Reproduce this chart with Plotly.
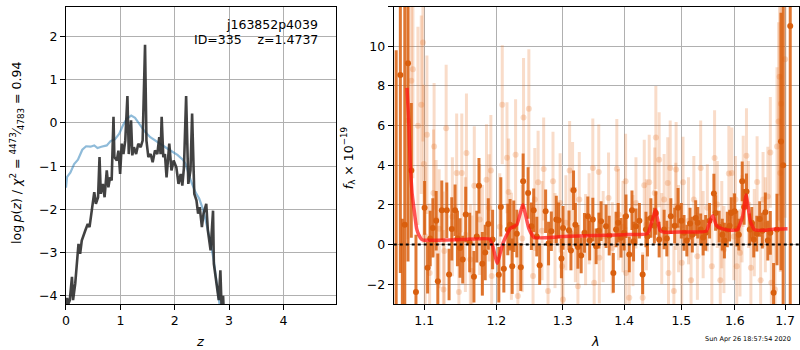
import plotly.graph_objects as go

# ---------------- left panel: p(z) ----------------
z_pz = [0.00, 0.02, 0.04, 0.07, 0.11, 0.13, 0.17, 0.20, 0.23, 0.26, 0.29, 0.355, 0.40, 0.433,
        0.477, 0.52, 0.55, 0.59, 0.617, 0.64, 0.678, 0.71, 0.75, 0.78, 0.81, 0.84, 0.874,
        0.89, 0.935, 0.965, 0.996, 1.026, 1.057, 1.09, 1.13, 1.155, 1.197, 1.22, 1.25, 1.29,
        1.33, 1.374, 1.41, 1.454, 1.48, 1.515, 1.557, 1.594, 1.637, 1.68, 1.716, 1.74, 1.76,
        1.79, 1.82, 1.85, 1.90, 1.94, 1.98, 2.03, 2.07, 2.11, 2.14, 2.17, 2.21, 2.25, 2.29,
        2.32, 2.36, 2.40, 2.43, 2.46, 2.50, 2.53, 2.58, 2.61, 2.66, 2.705, 2.72, 2.77, 2.81,
        2.84, 2.86, 2.89, 2.90]
lnp_pz = [-4.20, -4.05, -4.20, -4.10, -3.56, -4.10, -3.72, -3.26, -2.80, -3.03, -2.72, -2.49,
          -2.34, -2.41, -1.95, -1.60, -1.87, -1.72, -0.79, -1.64, -1.41, -1.72, -1.10, -1.49,
          -1.26, -1.33, 0.14, -0.79, -0.87, -0.64, -1.18, -0.48, -0.72, -0.41, 0.62, -0.72,
          0.06, -0.75, -0.56, -0.72, -0.48, -0.56, -0.41, 1.81, -0.41, -0.79, -0.72, -0.91,
          -0.64, -0.72, -0.33, -0.72, 0.14, -0.79, -0.72, -1.26, -0.48, -1.10, -0.87, -1.03,
          -1.41, -1.18, -1.45, -1.03, 0.62, -1.41, -1.10, 0.22, -1.64, -1.79, -2.10, -1.95,
          -2.41, -2.10, -1.87, -2.49, -2.95, -2.03, -3.26, -3.80, -4.10, -3.41, -4.19, -4.00,
          -4.30]

z_prior = [0.00, 0.02, 0.08, 0.15, 0.22, 0.30, 0.37, 0.45, 0.52, 0.58, 0.65, 0.75, 0.82, 0.90,
           0.98, 1.05, 1.12, 1.20, 1.27, 1.35, 1.45, 1.55, 1.65, 1.75, 1.85, 1.95, 2.05, 2.15,
           2.20, 2.25, 2.30, 2.38, 2.45, 2.52, 2.58, 2.65, 2.72, 2.78, 2.83]
lnp_prior = [-1.50, -1.25, -1.15, -0.95, -0.85, -0.62, -0.54, -0.55, -0.52, -0.58, -0.55, -0.52,
             -0.42, -0.38, -0.25, -0.05, 0.10, 0.17, 0.12, -0.03, -0.20, -0.33, -0.42, -0.50,
             -0.58, -0.66, -0.74, -0.85, -0.95, -1.15, -1.35, -1.60, -1.75, -2.00, -2.30,
             -2.70, -3.20, -3.75, -4.25]

left_xticks = [0, 1, 2, 3, 4]
left_yticks = [-4, -3, -2, -1, 0, 1, 2]

# ---------------- right panel: spectrum ----------------
dark_lam = [1.0634, 1.0688, 1.0714, 1.0745, 1.0787, 1.0830, 1.0891, 1.1005, 1.1045, 1.1080,
            1.1115, 1.1160, 1.1182, 1.1236, 1.1304, 1.1335, 1.1372, 1.1417, 1.1450, 1.1486,
            1.1523, 1.1565, 1.1620, 1.1680, 1.1720, 1.1751, 1.1799, 1.1840, 1.1884, 1.1946,
            1.2036, 1.2065, 1.2109, 1.2167, 1.2200, 1.2232, 1.2255, 1.2300, 1.2359, 1.2394,
            1.2469, 1.2518, 1.2553, 1.2600, 1.2644, 1.2735, 1.2780, 1.2823, 1.2900, 1.2936,
            1.2980, 1.3005, 1.3099, 1.3130, 1.3171, 1.3200, 1.3241, 1.3293, 1.3346, 1.3400,
            1.3430, 1.3481, 1.3535, 1.3580, 1.3616, 1.3698, 1.3750, 1.3819, 1.3864, 1.3900,
            1.3947, 1.4000, 1.4031, 1.4087, 1.4133, 1.4160, 1.4201, 1.4260, 1.4316, 1.4373,
            1.4400, 1.4459, 1.4520, 1.4546, 1.4604, 1.4692, 1.4740, 1.4811, 1.4880, 1.4941,
            1.5000, 1.5049, 1.5100, 1.5158, 1.5200, 1.5262, 1.5300, 1.5354, 1.5400, 1.5447,
            1.5520, 1.5601, 1.5633, 1.5700, 1.5760, 1.5800, 1.5855, 1.5900, 1.5931, 1.5995,
            1.6040, 1.6077, 1.6143, 1.6180, 1.6226, 1.6291, 1.6330, 1.6369, 1.6430, 1.6487,
            1.6540, 1.6600, 1.6650, 1.6700, 1.6766, 1.6835, 1.6916, 1.6960, 1.7106]
dark_flux = [-3.20, 8.56, -3.50, 1.00, 9.15, 3.74, -2.40, 1.85, -1.17, 0.30,
             0.84, 1.20, -1.85, 1.73, 1.73, -1.51, 0.79, 1.73, 0.30, -0.17,
             -0.76, 1.51, 0.10, -1.63, 0.40, 2.97, -0.97, -0.40, 1.04, 0.25,
             -1.53, 1.90, -1.22, 0.76, 1.00, -1.09, 0.92, 0.55, -1.14, 3.19,
             2.60, 0.92, 1.73, 0.40, -1.04, 1.68, 0.05, 0.67, 1.26, 1.22,
             -0.70, 0.84, 0.72, -0.30, 2.74, 1.00, -0.12, -0.55, 0.59, 1.43,
             0.20, 1.26, -0.09, 0.70, 1.18, 0.92, 0.45, -1.43, 0.76, 1.10,
             0.34, 0.60, 1.43, -0.50, 1.73, 0.15, 0.92, 1.20, -1.51, 0.76,
             0.40, 1.34, 0.95, 1.59, 0.25, 0.76, 0.30, 1.43, 0.95, 1.85,
             1.20, 0.59, 0.20, 1.06, 0.50, 1.34, 1.10, 0.76, 0.35, 0.59,
             1.20, 2.57, 1.59, 0.90, 0.50, 0.20, 0.76, 0.95, 1.59, 1.68,
             0.80, 0.50, 3.19, 1.90, 2.68, 0.76, 1.10, 0.25, 0.55, 1.29,
             0.70, 1.63, 0.20, 0.59, -2.43, 0.76, 5.20, 4.00, 11.03]
dark_err = [13.0, 10.0, 4.8, 12.0, 10.0, 3.4, 2.9, 1.35, 1.3, 1.4,
            1.5, 1.5, 1.4, 1.5, 1.4, 1.3, 1.6, 1.3, 1.4, 1.5,
            1.2, 1.4, 1.5, 1.3, 1.3, 1.4, 1.6, 1.4, 1.3, 1.5,
            1.4, 1.5, 1.2, 1.3, 1.3, 1.4, 1.3, 1.2, 1.2, 1.4,
            1.3, 1.2, 1.1, 1.0, 1.0, 1.1, 1.1, 1.0, 1.2, 0.9,
            1.0, 1.1, 1.0, 1.0, 1.0, 1.1, 1.1, 0.9, 1.0, 1.0,
            1.0, 1.1, 0.9, 0.9, 1.0, 1.1, 1.0, 1.0, 0.9, 1.0,
            1.0, 0.9, 1.1, 0.9, 1.0, 1.0, 0.9, 0.9, 1.0, 0.9,
            1.0, 1.0, 0.9, 1.1, 0.9, 1.0, 0.9, 0.9, 0.9, 1.0,
            0.9, 0.9, 0.8, 0.8, 0.9, 0.9, 0.8, 0.8, 0.9, 0.9,
            0.9, 1.0, 0.9, 0.8, 0.8, 0.9, 0.9, 0.8, 0.8, 0.9,
            0.9, 0.8, 1.0, 0.9, 0.9, 0.8, 0.8, 0.9, 0.9, 0.9,
            0.9, 1.0, 1.0, 1.1, 1.5, 1.8, 6.5, 12.0, 15.0]

light_lam = [1.0787, 1.0830, 1.0851, 1.0917, 1.0961, 1.0983, 1.0995, 1.1013, 1.1036, 1.1072,
             1.1124, 1.1132, 1.1159, 1.1200, 1.1258, 1.1270, 1.1295, 1.1380, 1.1439, 1.1470,
             1.1510, 1.1560, 1.1575, 1.1629, 1.1651, 1.1685, 1.1761, 1.1800, 1.1858, 1.1895,
             1.1921, 1.1933, 1.2050, 1.2086, 1.2155, 1.2179, 1.2220, 1.2282, 1.2316, 1.2380,
             1.2400, 1.2480, 1.2543, 1.2570, 1.2620, 1.2680, 1.2705, 1.2772, 1.2849, 1.2880,
             1.2960, 1.2989, 1.3005, 1.3050, 1.3109, 1.3156, 1.3200, 1.3241, 1.3263, 1.3364,
             1.3420, 1.3481, 1.3503, 1.3578, 1.3587, 1.3650, 1.3739, 1.3801, 1.3877, 1.3905,
             1.3980, 1.4025, 1.4031, 1.4087, 1.4150, 1.4201, 1.4316, 1.4344, 1.4380, 1.4430,
             1.4526, 1.4546, 1.4604, 1.4650, 1.4692, 1.4756, 1.4770, 1.4800, 1.4866, 1.4899,
             1.4906, 1.4950, 1.5007, 1.5031, 1.5130, 1.5177, 1.5228, 1.5293, 1.5354, 1.5400,
             1.5478, 1.5563, 1.5614, 1.5665, 1.5722, 1.5750, 1.5791, 1.5885, 1.5942, 1.5980,
             1.6012, 1.6037, 1.6100, 1.6140, 1.6163, 1.6226, 1.6265, 1.6313, 1.6380, 1.6436,
             1.6506, 1.6554, 1.6600, 1.6650, 1.6700, 1.6720, 1.6795, 1.6835, 1.6867, 1.6887,
             1.6902, 1.6916, 1.7000]
light_flux = [6.26, 8.26, 8.85, 5.99, 7.05, 10.20, 4.06, 0.42, 5.54, -1.43,
              2.60, 4.95, 1.26, 0.80, -2.27, -0.32, 5.87, 1.40, 3.61, -2.40,
              3.61, 0.50, 4.62, -0.76, -1.34, 2.97, 1.26, 0.20, 3.27, 1.85,
              3.74, -1.59, 0.90, 7.05, 4.38, 2.65, -0.09, 4.53, -2.60, 0.30,
              6.41, 6.85, -1.59, 2.27, 3.14, 0.70, 3.81, -2.35, 3.19, 0.20,
              2.10, -1.09, -2.77, 1.10, 3.73, 2.77, 0.50, -2.10, 2.27, 0.25,
              1.30, 3.86, -1.93, 3.66, -0.67, 0.40, 2.35, -0.17, 3.83, 1.51,
              0.90, 3.19, -1.43, -2.69, 0.20, 2.10, -2.69, 2.99, 1.00, 3.14,
              2.60, 5.40, 4.28, 0.30, 2.27, 3.11, -1.43, 3.86, -2.35, 1.93,
              3.78, 0.80, -0.92, 3.14, 1.20, -1.80, 2.27, -0.59, 3.86, 0.50,
              1.85, -1.09, 4.37, 2.02, -1.80, 1.00, -0.25, 3.58, 3.61, 0.40,
              2.27, -1.09, -0.42, 1.30, 3.19, 4.48, 2.02, -1.17, 0.60, 3.16,
              -1.80, 2.27, 1.00, 2.43, 4.65, -1.93, -2.27, 4.95, 6.21, 8.47,
              3.61, 7.10, 9.35]
light_err = [6.0, 6.0, 5.5, 5.0, 4.5, 5.0, 4.0, 3.5, 4.0, 3.5,
             3.2, 3.2, 3.0, 3.0, 3.0, 3.0, 3.2, 3.0, 3.0, 3.0,
             3.0, 2.9, 3.0, 2.8, 2.8, 3.0, 2.8, 2.8, 2.8, 2.7,
             2.8, 2.8, 2.7, 3.0, 2.8, 2.7, 2.7, 2.8, 2.7, 2.7,
             3.0, 3.0, 2.6, 2.6, 2.6, 2.5, 2.6, 2.5, 2.5, 2.4,
             2.5, 2.4, 2.4, 2.4, 2.5, 2.4, 2.4, 2.4, 2.4, 2.3,
             2.3, 2.5, 2.4, 2.4, 2.3, 2.3, 2.3, 2.3, 2.5, 2.3,
             2.3, 2.4, 2.3, 2.3, 2.3, 2.3, 2.3, 2.3, 2.3, 2.4,
             2.3, 2.6, 2.4, 2.3, 2.3, 2.3, 2.3, 2.4, 2.3, 2.2,
             2.4, 2.2, 2.2, 2.3, 2.2, 2.2, 2.2, 2.2, 2.4, 2.2,
             2.2, 2.2, 2.4, 2.2, 2.2, 2.2, 2.2, 2.4, 2.3, 2.2,
             2.2, 2.2, 2.2, 2.2, 2.3, 2.4, 2.2, 2.2, 2.2, 2.3,
             2.3, 2.4, 2.4, 2.5, 2.8, 2.6, 3.0, 4.0, 5.0, 6.0,
             5.0, 6.0, 8.0]

model_lam = [1.0774, 1.0800, 1.0817, 1.0840, 1.0861, 1.0900, 1.0926, 1.0970, 1.1000, 1.1500,
             1.1900, 1.1950, 1.2010, 1.2100, 1.2200, 1.2300, 1.2390, 1.2480, 1.2560, 1.3000,
             1.3500, 1.4000, 1.4400, 1.4480, 1.4540, 1.4620, 1.4700, 1.5000, 1.5460, 1.5530,
             1.5580, 1.5650, 1.5750, 1.5900, 1.6050, 1.6150, 1.6220, 1.6300, 1.6380, 1.6600,
             1.6800, 1.7050]
model_flux = [7.90, 6.00, 3.94, 2.60, 1.93, 0.80, 0.50, 0.25, 0.22, 0.25,
              0.28, -0.10, -0.95, 0.10, 0.80, 1.00, 2.00, 0.80, 0.35, 0.40,
              0.45, 0.50, 0.55, 1.20, 1.75, 0.70, 0.62, 0.63, 0.68, 1.20,
              1.45, 0.95, 0.80, 0.72, 0.75, 1.40, 2.50, 1.20, 0.75, 0.72,
              0.78, 0.80]

right_xticks = [1.1, 1.2, 1.3, 1.4, 1.5, 1.6, 1.7]
right_yticks = [-2, 0, 2, 4, 6, 8, 10, 12]

title_lines = ["j163852p4039", "ID=335\u00a0\u00a0\u00a0\u00a0z=1.4737"]
timestamp = "Sun Apr 26 18:57:54 2020"

# ---------------- figure ----------------
FONT = "DejaVu Sans"
ORANGE = "rgb(217,95,14)"
LIGHT = "rgba(230,110,30,0.24)"

fig = go.Figure()

fig.add_trace(go.Scatter(x=z_prior, y=lnp_prior, mode="lines",
                         line=dict(color="rgba(31,119,180,0.5)", width=2.2),
                         xaxis="x", yaxis="y", showlegend=False, hoverinfo="skip"))
fig.add_trace(go.Scatter(x=z_pz, y=lnp_pz, mode="lines",
                         line=dict(color="rgba(40,40,40,0.88)", width=2.6),
                         xaxis="x", yaxis="y", showlegend=False, hoverinfo="skip"))

fig.add_trace(go.Scatter(x=light_lam, y=light_flux, mode="markers",
                         marker=dict(color=LIGHT, size=6),
                         error_y=dict(type="data", array=light_err, visible=True,
                                      thickness=3, width=0, color=LIGHT),
                         xaxis="x2", yaxis="y2", showlegend=False, hoverinfo="skip"))
fig.add_trace(go.Scatter(x=dark_lam, y=dark_flux, mode="markers",
                         marker=dict(color=ORANGE, size=6),
                         error_y=dict(type="data", array=dark_err, visible=True,
                                      thickness=3, width=0, color="rgba(217,95,14,0.85)"),
                         xaxis="x2", yaxis="y2", showlegend=False, hoverinfo="skip"))
fig.add_trace(go.Scatter(x=model_lam, y=model_flux, mode="lines",
                         line=dict(color="rgba(255,20,20,0.72)", width=3.5, shape="spline",
                                   smoothing=0.4),
                         xaxis="x2", yaxis="y2", showlegend=False, hoverinfo="skip"))

fig.add_shape(type="line", xref="x2 domain", yref="y2", x0=0, x1=1, y0=0, y1=0,
              line=dict(color="black", width=2, dash="dot"), layer="above")

axis_common = dict(showgrid=True, gridcolor="#b0b0b0", gridwidth=1, showline=True,
                   mirror=True, linecolor="black", linewidth=1, ticks="outside",
                   ticklen=5, tickcolor="black", zeroline=False,
                   tickfont=dict(family=FONT, size=12.5, color="black"))

def fmt(v):
    s = f"{v:g}"
    return s.replace("-", "\u2212")

ydom = [1 - 304 / 350, 1 - 6.7 / 350]
fig.update_layout(
    width=800, height=350, margin=dict(l=0, r=0, t=0, b=0, pad=0),
    paper_bgcolor="white", plot_bgcolor="white", hovermode=False,
    xaxis=dict(domain=[62.3 / 800, 333.3 / 800], range=[0, 4.96], anchor="y",
               tickvals=left_xticks, ticktext=[fmt(v) for v in left_xticks], **axis_common),
    yaxis=dict(domain=ydom, range=[-4.19, 2.69], anchor="x",
               tickvals=left_yticks, ticktext=[fmt(v) for v in left_yticks], **axis_common),
    xaxis2=dict(domain=[391.7 / 800, 799.3 / 800], type="log", range=[0.025429, 0.237895],
                anchor="y2", tickvals=right_xticks, ticktext=[fmt(v) for v in right_xticks],
                **axis_common),
    yaxis2=dict(domain=ydom, range=[-3, 12], anchor="x2",
                tickvals=right_yticks, ticktext=[fmt(v) for v in right_yticks], **axis_common),
)

def ann(text, x, y, size=12.5, angle=0, xanchor="center", yanchor="middle"):
    fig.add_annotation(text=text, x=x / 800, y=1 - y / 350, xref="paper", yref="paper",
                       showarrow=False, textangle=angle, xanchor=xanchor, yanchor=yanchor,
                       font=dict(family=FONT, size=size, color="black"))

ann(title_lines[0], 318, 24, xanchor="right")
ann(title_lines[1], 318, 39.5, xanchor="right")
ann("<i>z</i>", 197, 341, size=13)
ann("<i>λ</i>", 594, 341, size=13)
ann("log\u2009<i>p</i>(<i>z</i>) / <i>χ</i><sup>2</sup> = <sup>4473</sup>⁄<sub>4783</sub> = 0.94",
    13, 153, size=12.5, angle=-90)
ann("<i>f</i><sub>λ</sub> × 10<sup>−19</sup>", 346, 158, size=12.5, angle=-90)
ann(timestamp, 748, 339, size=6.5)

fig.write_html("out.html", config={"responsive": False, "displayModeBar": False})

# remove the browser's default page margin so the 800x350 figure fills the window exactly
with open("out.html", "r", encoding="utf-8") as fh:
    html = fh.read()
html = html.replace("<head>", "<head><style>html,body{margin:0;padding:0;overflow:hidden;}</style>", 1)
with open("out.html", "w", encoding="utf-8") as fh:
    fh.write(html)
